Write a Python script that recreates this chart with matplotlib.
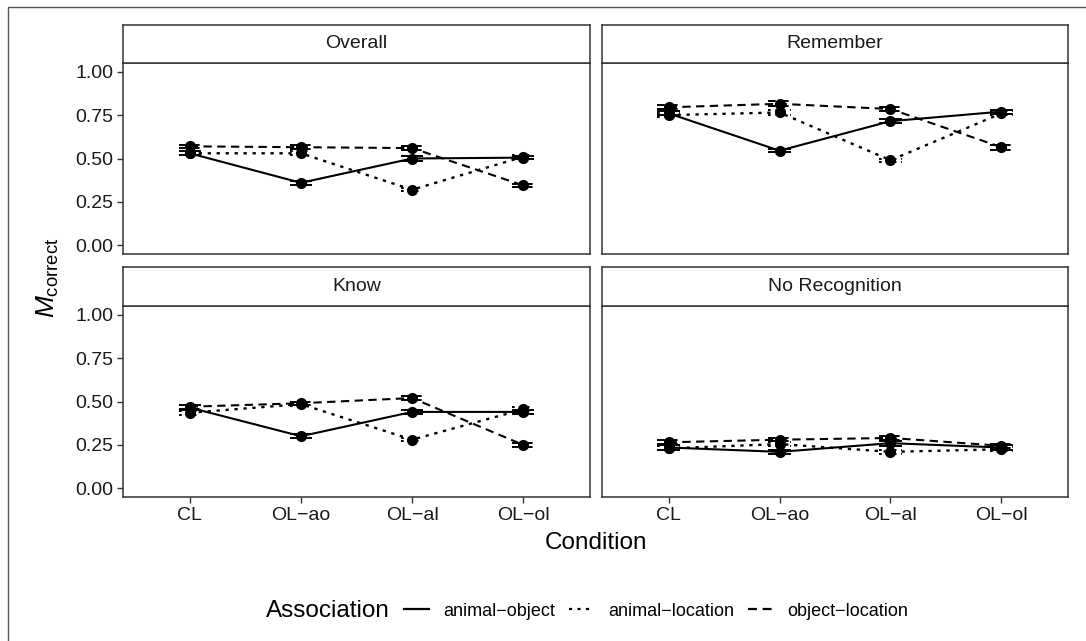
import matplotlib
matplotlib.use("Agg")
import matplotlib.pyplot as plt
from matplotlib.lines import Line2D
from matplotlib.patches import Rectangle
import numpy as np

plt.rcParams['font.family'] = ['Liberation Sans', 'DejaVu Sans']
plt.rcParams['mathtext.fontset'] = 'custom'
plt.rcParams['mathtext.rm'] = 'Liberation Sans'
plt.rcParams['mathtext.it'] = 'Liberation Sans:italic'

# ---- data ----
conditions = ['CL', 'OL\u2212ao', 'OL\u2212al', 'OL\u2212ol']
associations = ['animal\u2212object', 'animal\u2212location', 'object\u2212location']
panels = ['Overall', 'Remember', 'Know', 'No Recognition']

overall_ao = [0.53, 0.36, 0.50, 0.505]
overall_al = [0.53, 0.53, 0.32, 0.51]
overall_ol = [0.57, 0.565, 0.56, 0.345]
overall_se = [[0.012, 0.010, 0.012, 0.010], [0.012, 0.012, 0.010, 0.010], [0.010, 0.010, 0.010, 0.010]]

remember_ao = [0.76, 0.545, 0.715, 0.77]
remember_al = [0.75, 0.765, 0.49, 0.76]
remember_ol = [0.795, 0.815, 0.785, 0.565]
remember_se = [[0.012, 0.010, 0.012, 0.012], [0.012, 0.012, 0.010, 0.012], [0.012, 0.015, 0.012, 0.014]]

know_ao = [0.465, 0.30, 0.44, 0.44]
know_al = [0.435, 0.485, 0.28, 0.455]
know_ol = [0.47, 0.49, 0.52, 0.25]
know_se = [[0.012, 0.012, 0.013, 0.012], [0.012, 0.012, 0.010, 0.012], [0.012, 0.010, 0.014, 0.012]]

norec_ao = [0.235, 0.21, 0.26, 0.235]
norec_al = [0.23, 0.255, 0.21, 0.225]
norec_ol = [0.265, 0.28, 0.29, 0.245]
norec_se = [[0.012, 0.012, 0.014, 0.012], [0.012, 0.012, 0.012, 0.012], [0.012, 0.010, 0.014, 0.012]]

panel_data = {
    'Overall': ([overall_ao, overall_al, overall_ol], overall_se),
    'Remember': ([remember_ao, remember_al, remember_ol], remember_se),
    'Know': ([know_ao, know_al, know_ol], know_se),
    'No Recognition': ([norec_ao, norec_al, norec_ol], norec_se),
}
yticks = [0.0, 0.25, 0.5, 0.75, 1.0]
ytick_labels = ['0.00', '0.25', '0.50', '0.75', '1.00']

linestyles = ['-', (0, (1.4, 2.4)), (0, (4, 2.6))]

W, H = 1086, 641
fig = plt.figure(figsize=(W / 100, H / 100), dpi=100)
fig.patch.set_facecolor('white')

# outer border (top and left visible)
fig.add_artist(Rectangle((8 / W, -0.1), 1.2, (H - 7) / H + 0.1, transform=fig.transFigure,
                         fill=False, edgecolor='#555555', linewidth=1.0, clip_on=False))

frame_col = '#333333'
xs_left = [123, 602]
xs_right = [590, 1068]
rows = [(25, 63, 254), (267, 306, 497)]  # strip top, panel top, panel bottom


def fx(px):
    return px / W


def fy(py):
    return 1 - py / H


for i, name in enumerate(panels):
    r, c = divmod(i, 2)
    st, pt, pb = rows[r]
    x0, x1 = xs_left[c], xs_right[c]
    ax = fig.add_axes([fx(x0), fy(pb), fx(x1) - fx(x0), fy(pt) - fy(pb)])
    sax = fig.add_axes([fx(x0), fy(pt), fx(x1) - fx(x0), fy(st) - fy(pt)])
    sax.set_xticks([])
    sax.set_yticks([])
    for sp in sax.spines.values():
        sp.set_color(frame_col)
        sp.set_linewidth(1.1)
    sax.text(0.5, 0.5, name, ha='center', va='center', fontsize=14, color='#1a1a1a',
             transform=sax.transAxes)

    series, se = panel_data[name]
    x = np.arange(1, len(conditions) + 1)
    for k, (vals, ls) in enumerate(zip(series, linestyles)):
        vals = np.array(vals)
        e = np.array(se[k])
        lw = 1.7 if k == 1 else 1.5
        ax.plot(x, vals, color='black', linestyle=ls, linewidth=lw, marker='o',
                markersize=7, zorder=3)
        ax.vlines(x, vals - e, vals + e, color='black', linewidth=1.3, zorder=2)
        ax.hlines(vals - e, x - 0.1, x + 0.1, color='black', linestyle=ls, linewidth=1.4, zorder=2)
        ax.hlines(vals + e, x - 0.1, x + 0.1, color='black', linestyle=ls, linewidth=1.4, zorder=2)

    ax.set_xlim(0.4, 4.6)
    ax.set_ylim(-0.05, 1.05)
    ax.set_xticks(x)
    ax.set_yticks(yticks)
    for sp in ax.spines.values():
        sp.set_color(frame_col)
        sp.set_linewidth(1.1)
    ax.tick_params(axis='both', length=4, width=1.0, color=frame_col, labelsize=14,
                   labelcolor='#1a1a1a', pad=3)
    if c == 0:
        ax.set_yticklabels(ytick_labels)
    else:
        ax.set_yticklabels([])
        ax.tick_params(axis='y', length=0)
    if r == 1:
        ax.set_xticklabels(conditions)
    else:
        ax.set_xticklabels([])
        ax.tick_params(axis='x', length=0)

# axis titles
fig.text(fx((123 + 1068) / 2), fy(543), 'Condition', ha='center', va='center', fontsize=17.5)
fig.text(fx(48), fy(278), r'$M_{\mathrm{correct}}$', ha='center', va='center', fontsize=19,
         rotation=90)

# legend
fig.text(fx(266), fy(611), 'Association', ha='left', va='center', fontsize=17.5)
handles = [Line2D([], [], color='black', linestyle=ls, linewidth=1.6) for ls in linestyles]
fig.legend(handles, associations, loc='center left', bbox_to_anchor=(fx(404), fy(611)),
           ncol=3, frameon=False, fontsize=13, handlelength=1.4, handletextpad=0.75,
           columnspacing=0.8, borderpad=0, borderaxespad=0)

fig.savefig('out.png', dpi=100, facecolor='white')
